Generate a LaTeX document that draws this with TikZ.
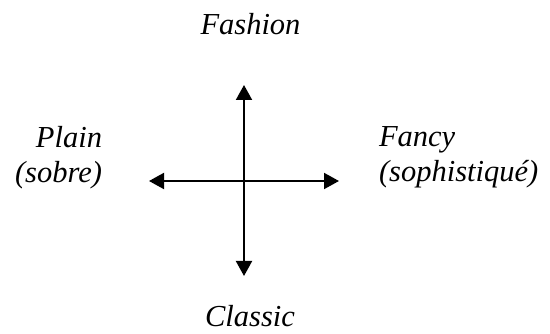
\documentclass[tikz,border=0pt]{standalone}
\usepackage{fontspec}
\setmainfont{Liberation Serif}
\usetikzlibrary{arrows.meta}
\tikzset{
    every picture/.style={line cap=round,line join=round},
    axislabel/.style={inner sep=0pt,outer sep=0pt,text=black,
      font=\itshape\fontsize{30.5}{35}\selectfont},
    axisarrow/.style={{Triangle[length=15pt,width=16pt]}-{Triangle[length=15pt,width=16pt]},
      draw=black,line width=2pt}
}
\begin{document}
\begin{tikzpicture}[x=1pt,y=-1pt]
  \useasboundingbox (0,0) rectangle (550,334);
  \coordinate (top) at (244,85);
  \coordinate (bot) at (244,276);
  \coordinate (lft) at (149,181);
  \coordinate (rgt) at (339,181);
  \draw[axisarrow] (bot)--(top);
  \draw[axisarrow] (lft)--(rgt);
  \node[axislabel,anchor=base] (fashion) at (250.5,35) {Fashion};
  \node[axislabel,anchor=base] (classic) at (250,327) {Classic};
  \node[axislabel,anchor=base east,align=right] (plain) at (102,183) {Plain\\(sobre)};
  \node[axislabel,anchor=base west,align=left] (fancy) at (379,182) {Fancy\\(sophistiqué)};
\end{tikzpicture}
\end{document}
